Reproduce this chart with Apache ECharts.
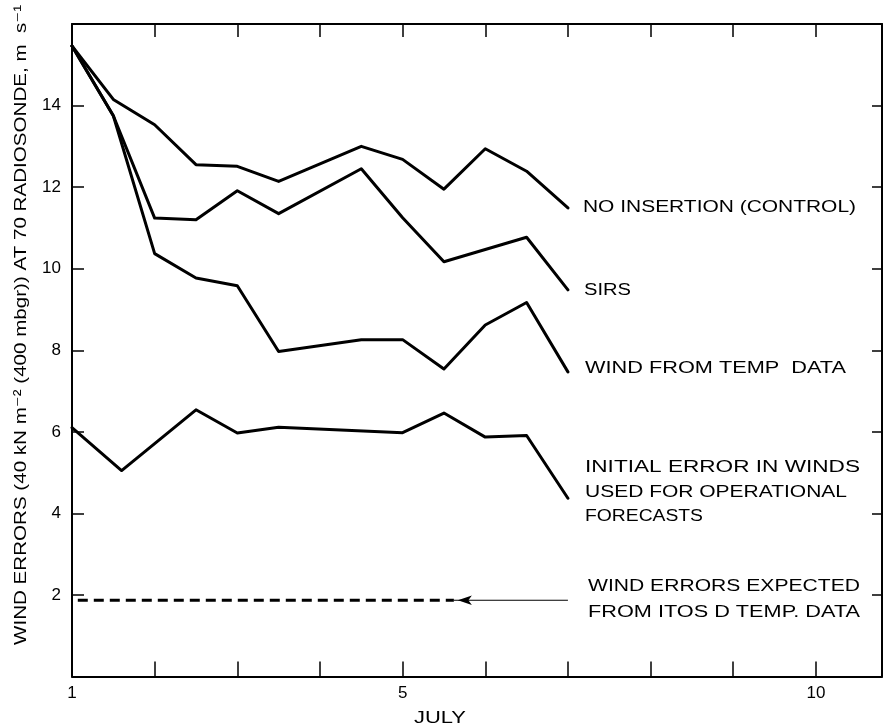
<!DOCTYPE html>
<html>
<head>
<meta charset="utf-8">
<script src="https://cdn.jsdelivr.net/npm/echarts@6/dist/echarts.min.js"></script>
<style>
html,body{margin:0;padding:0;background:#fff;}
#chart{width:890px;height:727px;}
</style>
</head>
<body>
<div id="chart"></div>
<script>
// ---- data ----
const controlDays = [1, 1.5, 2, 2.5, 3, 3.5, 4.5, 5, 5.5, 6, 6.5, 7];
const controlVals = [15.46, 14.15, 13.53, 12.55, 12.51, 12.14, 13.0, 12.68, 11.95, 12.94, 12.39, 11.49];

const sirsDays = [1, 1.5, 2, 2.5, 3, 3.5, 4.5, 5, 5.5, 6.5, 7];
const sirsVals = [15.46, 13.75, 11.24, 11.2, 11.91, 11.35, 12.45, 11.25, 10.17, 10.77, 9.48];

const tempDays = [1, 1.5, 2, 2.5, 3, 3.5, 4.5, 5, 5.5, 6, 6.5, 7];
const tempVals = [15.46, 13.75, 10.37, 9.77, 9.58, 7.97, 8.26, 8.26, 7.54, 8.62, 9.17, 7.47];

const initialDays = [1, 1.6, 2.5, 3, 3.5, 5, 5.5, 6, 6.5, 7];
const initialVals = [6.1, 5.05, 6.54, 5.97, 6.11, 5.98, 6.46, 5.87, 5.91, 4.37];

const expectedDashDays = [1.07, 5.62];
const expectedDashVals = [1.87, 1.87];
const expectedSolidDays = [5.62, 7.0];
const expectedSolidVals = [1.87, 1.87];

const xLabelTicks = [1, 5, 10];
const yLabelTicks = [2, 4, 6, 8, 10, 12, 14];

const yAxisTitle = 'WIND ERRORS (40 kN m\u207B\u00B2 (400 mbgr)) AT 70 RADIOSONDE, m  s\u207B\u00B9';
const xAxisTitle = 'JULY';
const seriesLabels = [
  ['NO INSERTION (CONTROL)'],
  ['SIRS'],
  ['WIND FROM TEMP  DATA'],
  ['INITIAL ERROR IN WINDS', 'USED FOR OPERATIONAL', 'FORECASTS'],
  ['WIND ERRORS EXPECTED', 'FROM ITOS D TEMP. DATA']
];

// ---- helpers ----
const FONT = '"Liberation Sans", Arial, "DejaVu Sans", sans-serif';
const mctx = document.createElement('canvas').getContext('2d');
function measure(text, size) {
  mctx.font = size + 'px ' + FONT;
  return mctx.measureText(text).width;
}
function zip(xs, ys) { return xs.map((x, i) => [x, ys[i]]); }

function fittedText(text, x, y, size, targetW, opts) {
  const w = measure(text, size);
  const s = targetW / w;
  return Object.assign({
    type: 'text',
    x: x, y: y,
    scaleX: s,
    silent: true,
    style: {
      text: text,
      fill: '#000',
      font: size + 'px ' + FONT,
      textAlign: 'left',
      textVerticalAlign: 'middle'
    }
  }, opts || {});
}

const chart = echarts.init(document.getElementById('chart'));

const lineStyle = { color: '#000', width: 3, join: 'round', cap: 'round' };

// annotation labels: [left x, center y of each line, target width of each line]
const labelLayout = [
  { x: 583, ys: [208], ws: [273] },
  { x: 584, ys: [291], ws: [47] },
  { x: 585, ys: [369], ws: [261] },
  { x: 585, ys: [468, 493, 517], ws: [275, 262, 118] },
  { x: 588, ys: [587, 613], ws: [272, 272] }
];

const graphics = [];
seriesLabels.forEach((lines, i) => {
  const L = labelLayout[i];
  lines.forEach((t, j) => {
    graphics.push(fittedText(t, L.x, L.ys[j], 16, L.ws[j]));
  });
});
// x axis title
graphics.push(fittedText(xAxisTitle, 414, 718, 17, 52));
// y axis title (rotated, reading upward)
(function () {
  const size = 17;
  const w = measure(yAxisTitle, size);
  const target = 640;
  graphics.push({
    type: 'text',
    x: 21, y: 325,
    rotation: Math.PI / 2,
    scaleX: target / w,
    silent: true,
    style: {
      text: yAxisTitle,
      fill: '#000',
      font: size + 'px ' + FONT,
      textAlign: 'center',
      textVerticalAlign: 'middle'
    }
  });
})();

const axisLineStyle = { color: '#000', width: 2 };
const tickStyle = { color: '#000', width: 1.5 };

const option = {
  animation: false,
  backgroundColor: '#fff',
  grid: { left: 72, right: 8, top: 24, bottom: 50.5, containLabel: false },
  xAxis: [
    {
      type: 'value', min: 1, max: 10.8, interval: 1, position: 'bottom',
      axisLine: { show: true, onZero: false, lineStyle: axisLineStyle },
      axisTick: { show: true, inside: true, length: 15, lineStyle: tickStyle },
      splitLine: { show: false },
      axisLabel: {
        margin: 8, color: '#000', fontSize: 17, fontFamily: FONT,
        formatter: v => (xLabelTicks.indexOf(v) >= 0 ? String(v) : '')
      }
    },
    {
      type: 'value', min: 1, max: 10.8, interval: 1, position: 'top',
      axisLine: { show: true, onZero: false, lineStyle: axisLineStyle },
      axisTick: { show: true, inside: true, length: 13, lineStyle: tickStyle },
      splitLine: { show: false },
      axisLabel: { show: false }
    }
  ],
  yAxis: [
    {
      type: 'value', min: 0, max: 16, interval: 2, position: 'left',
      axisLine: { show: true, onZero: false, lineStyle: axisLineStyle },
      axisTick: { show: true, inside: true, length: 12, lineStyle: tickStyle },
      splitLine: { show: false },
      axisLabel: {
        margin: 11, color: '#000', fontSize: 17, fontFamily: FONT,
        formatter: v => (yLabelTicks.indexOf(v) >= 0 ? String(v) : '')
      }
    },
    {
      type: 'value', min: 0, max: 16, interval: 2, position: 'right',
      axisLine: { show: true, onZero: false, lineStyle: axisLineStyle },
      axisTick: { show: true, inside: true, length: 10, lineStyle: tickStyle },
      splitLine: { show: false },
      axisLabel: { show: false }
    }
  ],
  series: [
    { name: 'NO INSERTION (CONTROL)', type: 'line', symbol: 'none', data: zip(controlDays, controlVals), lineStyle: lineStyle },
    { name: 'SIRS', type: 'line', symbol: 'none', data: zip(sirsDays, sirsVals), lineStyle: lineStyle },
    { name: 'WIND FROM TEMP DATA', type: 'line', symbol: 'none', data: zip(tempDays, tempVals), lineStyle: lineStyle },
    { name: 'INITIAL ERROR IN WINDS', type: 'line', symbol: 'none', data: zip(initialDays, initialVals), lineStyle: lineStyle },
    {
      name: 'WIND ERRORS EXPECTED (dashed)', type: 'line', symbol: 'none',
      data: zip(expectedDashDays, expectedDashVals),
      lineStyle: { color: '#000', width: 3, type: [10, 6] }
    },
    {
      name: 'WIND ERRORS EXPECTED (solid)', type: 'line',
      data: zip(expectedSolidDays, expectedSolidVals).map((p, i) => i === 0
        ? { value: p, symbol: 'arrow', symbolSize: [7, 14], symbolRotate: 90, symbolOffset: [4, 0], itemStyle: { color: '#000' } }
        : { value: p, symbol: 'none' }),
      showSymbol: true,
      lineStyle: { color: '#000', width: 1.2 }
    }
  ],
  graphic: graphics
};
chart.setOption(option);
</script>
</body>
</html>
